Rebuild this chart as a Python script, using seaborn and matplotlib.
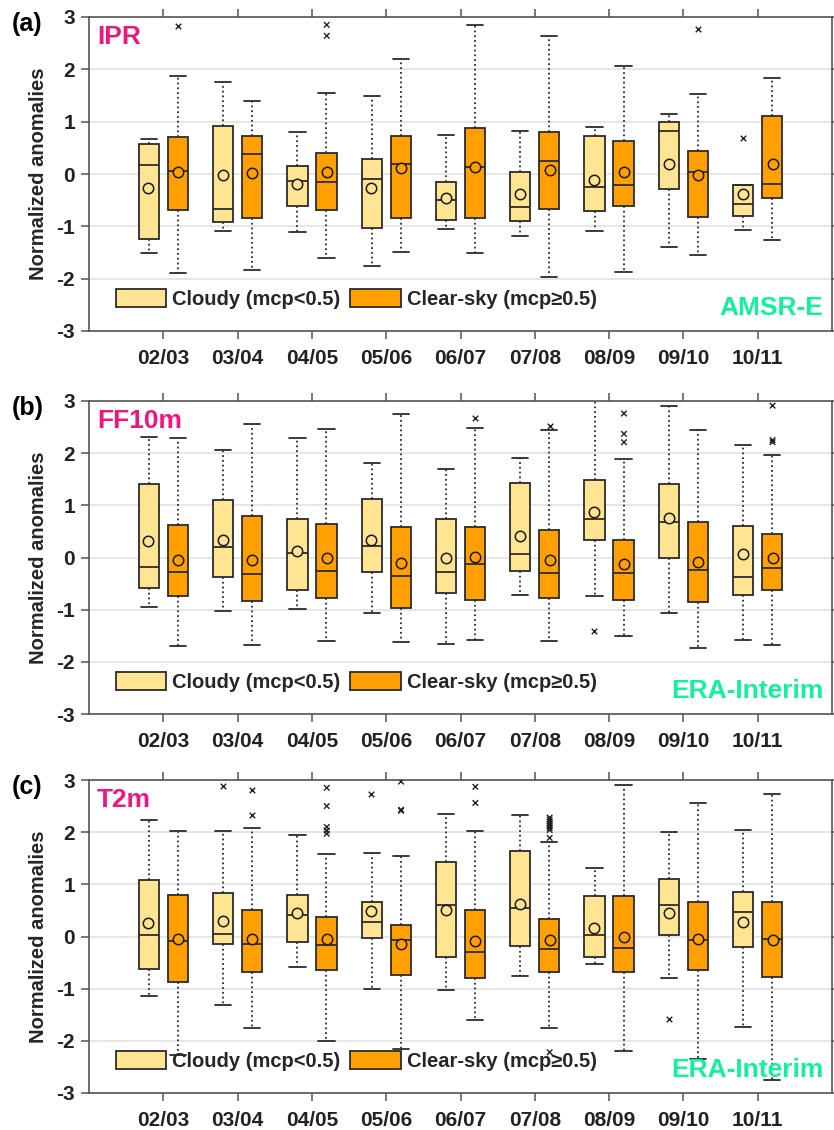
import numpy as np
import pandas as pd
import matplotlib
matplotlib.use('Agg')
import matplotlib.pyplot as plt
import seaborn as sns

# Seasons on the x axis
seasons = ['02/03', '03/04', '04/05', '05/06', '06/07', '07/08', '08/09', '09/10', '10/11']
groups = ['Cloudy (mcp<0.5)', 'Clear-sky (mcp\u22650.5)']
box_colors = ['#FFE491', '#FFA000']

# (a) IPR, AMSR-E : whisker low, q1, median, q3, whisker high, mean
ipr_cld_lo = [-1.51, -1.08, -1.10, -1.76, -1.06, -1.19, -1.08, -1.40, -1.07]
ipr_cld_q1 = [-1.24, -0.91, -0.61, -1.03, -0.88, -0.90, -0.70, -0.29, -0.80]
ipr_cld_md = [0.17, -0.67, -0.13, -0.09, -0.50, -0.64, -0.24, 0.83, -0.58]
ipr_cld_q3 = [0.57, 0.91, 0.15, 0.29, -0.15, 0.03, 0.73, 1.00, -0.21]
ipr_cld_hi = [0.66, 1.75, 0.80, 1.49, 0.75, 0.82, 0.89, 1.15, -0.21]
ipr_cld_mean = [-0.27, -0.01, -0.20, -0.26, -0.45, -0.39, -0.11, 0.20, -0.38]
ipr_clr_lo = [-1.90, -1.84, -1.61, -1.49, -1.50, -1.97, -1.87, -1.54, -1.26]
ipr_clr_q1 = [-0.68, -0.85, -0.68, -0.84, -0.85, -0.67, -0.62, -0.83, -0.45]
ipr_clr_md = [0.06, 0.39, -0.15, 0.19, 0.14, 0.24, -0.21, 0.03, -0.19]
ipr_clr_q3 = [0.70, 0.72, 0.41, 0.72, 0.87, 0.80, 0.64, 0.44, 1.10]
ipr_clr_hi = [1.88, 1.40, 1.55, 2.20, 2.85, 2.64, 2.07, 1.53, 1.83]
ipr_clr_mean = [0.03, 0.01, 0.04, 0.12, 0.14, 0.07, 0.03, -0.01, 0.19]
ipr_cld_out = [('10/11', 0.69)]
ipr_clr_out = [('02/03', 2.82), ('04/05', 2.85), ('04/05', 2.64), ('09/10', 2.78)]

# (b) FF10m, ERA-Interim
ff_cld_lo = [-0.95, -1.03, -0.99, -1.07, -1.66, -0.71, -0.74, -1.06, -1.59]
ff_cld_q1 = [-0.58, -0.38, -0.63, -0.28, -0.69, -0.25, 0.33, 0.00, -0.71]
ff_cld_md = [-0.18, 0.21, 0.09, 0.22, -0.27, 0.06, 0.74, 0.68, -0.38]
ff_cld_q3 = [1.40, 1.10, 0.73, 1.12, 0.74, 1.42, 1.48, 1.41, 0.60]
ff_cld_hi = [2.31, 2.07, 2.30, 1.82, 1.70, 1.91, 3.10, 2.90, 2.15]
ff_cld_mean = [0.32, 0.34, 0.12, 0.33, 0.00, 0.42, 0.87, 0.75, 0.06]
ff_clr_lo = [-1.70, -1.68, -1.60, -1.62, -1.58, -1.61, -1.50, -1.73, -1.68]
ff_clr_q1 = [-0.74, -0.83, -0.77, -0.97, -0.82, -0.78, -0.81, -0.85, -0.63]
ff_clr_md = [-0.27, -0.32, -0.25, -0.35, -0.12, -0.29, -0.29, -0.24, -0.21]
ff_clr_q3 = [0.62, 0.80, 0.64, 0.59, 0.58, 0.52, 0.34, 0.69, 0.46]
ff_clr_hi = [2.30, 2.56, 2.47, 2.76, 2.48, 2.44, 1.88, 2.45, 1.96]
ff_clr_mean = [-0.05, -0.05, -0.01, -0.10, 0.01, -0.05, -0.12, -0.09, 0.00]
ff_cld_out = [('08/09', -1.41)]
ff_clr_out = [('06/07', 2.68), ('07/08', 2.53), ('08/09', 2.76), ('08/09', 2.37),
              ('08/09', 2.21), ('10/11', 2.91), ('10/11', 2.25), ('10/11', 2.21)]

# (c) T2m, ERA-Interim
t2_cld_lo = [-1.15, -1.32, -0.58, -1.00, -1.03, -0.76, -0.52, -0.79, -1.74]
t2_cld_q1 = [-0.63, -0.15, -0.11, -0.03, -0.40, -0.19, -0.40, 0.03, -0.21]
t2_cld_md = [0.03, 0.04, 0.42, 0.28, 0.60, 0.55, 0.03, 0.61, 0.47]
t2_cld_q3 = [1.08, 0.84, 0.80, 0.67, 1.43, 1.63, 0.77, 1.11, 0.86]
t2_cld_hi = [2.23, 2.03, 1.94, 1.60, 2.34, 2.33, 1.31, 2.00, 2.04]
t2_cld_mean = [0.26, 0.30, 0.46, 0.49, 0.51, 0.63, 0.17, 0.45, 0.28]
t2_clr_lo = [-2.28, -1.75, -2.01, -2.15, -1.60, -1.75, -2.19, -2.35, -2.76]
t2_clr_q1 = [-0.87, -0.68, -0.64, -0.74, -0.79, -0.68, -0.68, -0.65, -0.78]
t2_clr_md = [-0.08, -0.15, -0.17, -0.06, -0.29, -0.24, -0.23, -0.07, -0.04]
t2_clr_q3 = [0.79, 0.51, 0.37, 0.23, 0.51, 0.34, 0.77, 0.67, 0.67]
t2_clr_hi = [2.03, 2.08, 1.58, 1.55, 2.02, 1.82, 2.91, 2.56, 2.74]
t2_clr_mean = [-0.04, -0.04, -0.05, -0.15, -0.09, -0.07, -0.01, -0.05, -0.06]
t2_cld_out = [('03/04', 2.89), ('05/06', 2.73), ('09/10', -1.59)]
t2_clr_out = [('03/04', 2.80), ('03/04', 2.32), ('04/05', 2.85), ('04/05', 2.50),
              ('04/05', 2.10), ('04/05', 2.03), ('04/05', 1.97), ('05/06', 2.97),
              ('05/06', 2.43), ('05/06', 2.41), ('06/07', 2.87), ('06/07', 2.56),
              ('07/08', 2.28), ('07/08', 2.24), ('07/08', 2.20), ('07/08', 2.16),
              ('07/08', 2.12), ('07/08', 2.08), ('07/08', 2.04), ('07/08', 1.89),
              ('07/08', -2.22)]


def box_frame(lo, q1, md, q3, hi, group):
    # five values per box -> quartiles and min/max reproduce the summary
    rows = []
    for s, vals in zip(seasons, zip(lo, q1, md, q3, hi)):
        for v in vals:
            rows.append((s, group, v))
    return pd.DataFrame(rows, columns=['season', 'group', 'value'])


def out_frame(cld, clr):
    rows = [(s, groups[0], v) for s, v in cld] + [(s, groups[1], v) for s, v in clr]
    return pd.DataFrame(rows, columns=['season', 'group', 'value'])


panels = [
    ('(a)', 'IPR', 'AMSR-E',
     (ipr_cld_lo, ipr_cld_q1, ipr_cld_md, ipr_cld_q3, ipr_cld_hi), ipr_cld_mean,
     (ipr_clr_lo, ipr_clr_q1, ipr_clr_md, ipr_clr_q3, ipr_clr_hi), ipr_clr_mean,
     ipr_cld_out, ipr_clr_out),
    ('(b)', 'FF10m', 'ERA-Interim',
     (ff_cld_lo, ff_cld_q1, ff_cld_md, ff_cld_q3, ff_cld_hi), ff_cld_mean,
     (ff_clr_lo, ff_clr_q1, ff_clr_md, ff_clr_q3, ff_clr_hi), ff_clr_mean,
     ff_cld_out, ff_clr_out),
    ('(c)', 'T2m', 'ERA-Interim',
     (t2_cld_lo, t2_cld_q1, t2_cld_md, t2_cld_q3, t2_cld_hi), t2_cld_mean,
     (t2_clr_lo, t2_clr_q1, t2_clr_md, t2_clr_q3, t2_clr_hi), t2_clr_mean,
     t2_cld_out, t2_clr_out),
]

sns.set_style('ticks')
plt.rcParams['font.family'] = ['Liberation Sans', 'DejaVu Sans']
plt.rcParams['font.weight'] = 'bold'
plt.rcParams['axes.unicode_minus'] = False

W, H = 834, 1130
fig = plt.figure(figsize=(W / 100, H / 100), dpi=100)
axes_px = [(17, 331), (401, 714), (780, 1093)]   # top / bottom of each panel in pixels
left_px, right_px = 89, 832

for (letter, var, src, cld_stats, cld_mean, clr_stats, clr_mean, cld_out, clr_out), (top, bot) in zip(panels, axes_px):
    ax = fig.add_axes([left_px / W, 1 - bot / H, (right_px - left_px) / W, (bot - top) / H])

    box_df = pd.concat([box_frame(*cld_stats, groups[0]), box_frame(*clr_stats, groups[1])])
    sns.boxplot(data=box_df, x='season', y='value', hue='group', order=seasons,
                hue_order=groups, palette=box_colors, saturation=1, width=0.78, gap=0.3,
                whis=(0, 100), showfliers=False, linecolor='#2b2b2b', linewidth=1.3,
                whiskerprops={'linestyle': ':'}, capwidths=0.22, ax=ax)

    mean_df = pd.DataFrame({'season': seasons * 2,
                            'group': [groups[0]] * 9 + [groups[1]] * 9,
                            'value': list(cld_mean) + list(clr_mean)})
    sns.stripplot(data=mean_df, x='season', y='value', hue='group', order=seasons,
                  hue_order=groups, palette=box_colors, dodge=True, jitter=False,
                  size=7.5, edgecolor='#1a1a1a', linewidth=1.1, legend=False, ax=ax, zorder=5)

    sns.stripplot(data=out_frame(cld_out, clr_out), x='season', y='value', hue='group',
                  order=seasons, hue_order=groups, palette=['#222222', '#222222'],
                  dodge=True, jitter=False, marker='x', size=4, edgecolor='#222222',
                  linewidth=1, legend=False, ax=ax, zorder=5)

    ax.set_xlim(-1, 9)
    ax.set_ylim(-3, 3)
    ax.set_yticks(range(-3, 4))
    ax.set_xlabel('')
    ax.set_ylabel('Normalized anomalies', fontsize=14.5, fontweight='bold', labelpad=6)
    ax.tick_params(axis='both', direction='out', top=True, right=True,
                   labeltop=False, labelright=False, labelsize=15, color='#555555',
                   labelcolor='#222222', width=1.1)
    ax.tick_params(axis='x', length=6, pad=7)
    ax.tick_params(axis='y', length=6, pad=4)
    ax.yaxis.grid(True, color='#e2e2e2', linewidth=1.2)
    ax.xaxis.grid(False)
    ax.set_axisbelow(True)
    for sp in ax.spines.values():
        sp.set_color('#555555')
        sp.set_linewidth(1.2)

    ax.text(0.011, 0.935, var, transform=ax.transAxes, ha='left', va='center',
            fontsize=19, fontweight='bold', color='#F2157F')
    ax.text(0.988, 0.072, src, transform=ax.transAxes, ha='right', va='center',
            fontsize=19, fontweight='bold', color='#14EFA0')
    fig.text(12 / W, 1 - (top + 7) / H, letter, ha='left', va='center',
             fontsize=18, fontweight='bold', color='black')

    sns.move_legend(ax, 'lower left', bbox_to_anchor=(0.036, 0.07), ncol=2,
                    frameon=False, title=None, fontsize=14.5, handlelength=2.5,
                    handleheight=0.95, columnspacing=0.5, handletextpad=0.3,
                    borderaxespad=0, borderpad=0)

fig.savefig('out.png', dpi=100)
